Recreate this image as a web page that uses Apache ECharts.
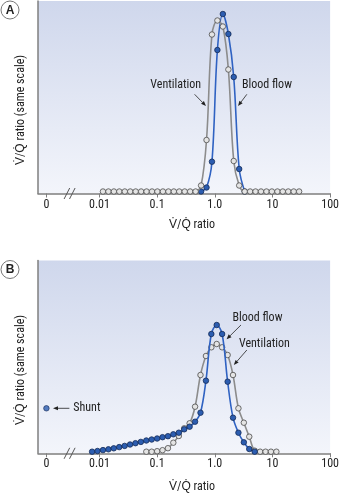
<!DOCTYPE html>
<html>
<head>
<meta charset="utf-8">
<script src="https://cdn.jsdelivr.net/npm/echarts@6/dist/echarts.min.js"></script>
<style>
  html, body { margin: 0; padding: 0; background: #ffffff; }
  #chart { width: 342px; height: 494px; }
</style>
</head>
<body>
<div id="chart"></div>
<script>
// ---- Panel A: normal lung, V/Q compartments (ratio) ----
const vqA = [0.0115, 0.0143, 0.0178, 0.0221, 0.0275, 0.0342, 0.0425, 0.0528, 0.0656, 0.0816,
             0.101, 0.126, 0.157, 0.195, 0.242, 0.301, 0.374, 0.465, 0.578, 0.719,
             0.893, 1.11, 1.38, 1.72, 2.13, 2.65, 3.30, 4.10, 5.09, 6.33,
             7.87, 9.78, 12.2, 15.1, 18.8, 23.4, 29.0];
const ventA = [0, 0, 0, 0, 0, 0, 0, 0, 0, 0,
               0, 0, 0, 0, 0, 0, 0, 0, 0.6, 5.15,
               15.7, 17.1, 16.5, 12.2, 3.05, 0.6, 0, 0, 0, 0,
               0, 0, 0, 0, 0, 0, 0];
const flowA = [null, null, null, null, null, null, null, null, null, null,
               null, null, null, null, null, null, null, null, 0, 0.4,
               2.98, 14.15, 17.75, 15.75, 11.45, 2.25, 0, null, null, null,
               null, null, null, null, null, null, null];

// ---- Panel B: lung with low V/Q units and shunt ----
const vqB = [0.00745, 0.00925, 0.0115, 0.0143, 0.0177, 0.0220, 0.0273, 0.0339, 0.0421, 0.0522,
             0.0649, 0.0805, 0.100, 0.124, 0.154, 0.191, 0.238, 0.295, 0.366, 0.455,
             0.565, 0.702, 0.871, 1.08, 1.34, 1.67, 2.07, 2.57, 3.19, 3.96,
             4.92, 6.11, 7.59, 9.42, 11.7];
const ventB = [null, null, null, null, null, null, null, null, null, null,
               0, 0, 0.05, 0.15, 0.35, 0.9, 1.57, 2.34, 2.84, 4.5,
               7.67, 9.57, 10.44, 10.77, 10.44, 9.67, 7.67, 4.34, 2.9, 1.5,
               0.1, 0, 0, 0, 0];
const flowB = [0, 0.07, 0.16, 0.24, 0.34, 0.46, 0.58, 0.72, 0.85, 0.98,
               1.12, 1.22, 1.32, 1.45, 1.55, 1.74, 1.9, 2.24, 2.5, 3.0,
               3.9, 7.1, 11.77, 12.67, 11.77, 7.0, 3.4, 1.9, 0.94, 0.27,
               0, null, null, null, null];
const shuntB = 4.34;   // blood flow through units with V/Q = 0

// ---- x axis ticks ----
const tickRatios = [0, 0.01, 0.1, 1, 10, 100];
const tickLabels = ['0', '0.01', '0.1', '1.0', '10', '100'];

const LOG_MIN = -3.066, LOG_MAX = 2.0;
const ZERO_POS = -2.92;           // where V/Q = 0 sits, left of the axis break
const BREAK_POS = [-2.565, -2.471];

const NARROW = "'Liberation Sans Narrow', 'Arial Narrow', 'Roboto Condensed', 'Liberation Sans', sans-serif";
const TXT = '#222222';
const AXIS = '#7f7f7f';
const BLUE_LINE = '#2f62c2', BLUE_FILL = '#2c5db0', BLUE_EDGE = '#142b57';
const GREY_LINE = '#8c8c8c', GREY_FILL = '#e4e4e4', GREY_EDGE = '#4a4a4a';

const pos = r => (r === 0 ? ZERO_POS : Math.log10(r));
const tickPos = tickRatios.map(pos);

function pairs(ratios, values) {
  const out = [];
  ratios.forEach((r, i) => { if (values[i] !== null) out.push([pos(r), values[i]]); });
  return out;
}

const plotBg = {
  type: 'linear', x: 0, y: 0, x2: 0, y2: 1,
  colorStops: [{ offset: 0, color: '#cfd7ec' }, { offset: 1, color: '#f3f5fb' }]
};

function xAxisCfg(gridIndex) {
  return {
    type: 'value', gridIndex, min: LOG_MIN, max: LOG_MAX,
    axisLine: { show: true, onZero: false, lineStyle: { color: AXIS, width: 1.5 } },
    axisTick: { show: true, customValues: tickPos, length: 4, lineStyle: { color: AXIS, width: 1 } },
    axisLabel: {
      show: true, customValues: tickPos, margin: 5,
      fontSize: 12, fontFamily: NARROW, color: TXT,
      formatter: v => {
        let best = 0;
        tickPos.forEach((p, i) => { if (Math.abs(p - v) < Math.abs(tickPos[best] - v)) best = i; });
        return tickLabels[best];
      }
    },
    splitLine: { show: false }
  };
}
function yAxisCfg(gridIndex, min, max) {
  return {
    type: 'value', gridIndex, min, max,
    axisLine: { show: true, onZero: false, lineStyle: { color: AXIS, width: 1.5 } },
    axisTick: { show: false }, axisLabel: { show: false }, splitLine: { show: false }
  };
}
function lineSeries(idx, data, blue, z) {
  return {
    type: 'line', xAxisIndex: idx, yAxisIndex: idx, data,
    smooth: 0.35, symbol: 'circle', symbolSize: 5.5, showAllSymbol: true,
    lineStyle: { color: blue ? BLUE_LINE : GREY_LINE, width: 1.6 },
    itemStyle: { color: blue ? BLUE_FILL : GREY_FILL, borderColor: blue ? BLUE_EDGE : GREY_EDGE, borderWidth: 0.8 },
    silent: true, z
  };
}

const chart = echarts.init(document.getElementById('chart'), null, { renderer: 'canvas' });
chart.setOption({
  animation: false,
  grid: [
    { left: 38, right: 6, top: 1, height: 192.5, show: true, backgroundColor: plotBg, borderWidth: 0 },
    { left: 38, right: 6, top: 260.5, height: 192.8, show: true, backgroundColor: plotBg, borderWidth: 0 }
  ],
  xAxis: [xAxisCfg(0), xAxisCfg(1)],
  yAxis: [yAxisCfg(0, -0.2, 19.05), yAxisCfg(1, -0.16, 19.12)],
  series: [
    lineSeries(0, pairs(vqA, flowA), true, 2),
    lineSeries(0, pairs(vqA, ventA), false, 3),
    lineSeries(1, pairs(vqB, ventB), false, 2),
    lineSeries(1, pairs(vqB, flowB), true, 3),
    {
      type: 'scatter', xAxisIndex: 1, yAxisIndex: 1, data: [[pos(0), shuntB]],
      symbol: 'circle', symbolSize: 5.5,
      itemStyle: { color: BLUE_FILL, borderColor: BLUE_EDGE, borderWidth: 0.8 }, silent: true, z: 3
    }
  ]
});

// ---- annotations, placed in data coordinates ----
const px = (g, x, y) => chart.convertToPixel({ gridIndex: g }, [x, y]);
const font = (size, weight) => ({ fontSize: size, fontFamily: NARROW, fontWeight: weight || 'normal', fill: TXT });

function label(g, x, y, text, align) {
  const p = px(g, x, y);
  return { type: 'text', x: p[0], y: p[1], z: 10,
    style: Object.assign({ text, align: align || 'center', verticalAlign: 'middle' }, font(12)) };
}
function arrow(g, x1, y1, x2, y2) {
  const a = px(g, x1, y1), b = px(g, x2, y2);
  const dx = b[0] - a[0], dy = b[1] - a[1], len = Math.hypot(dx, dy);
  const ux = dx / len, uy = dy / len, L = 5, W = 2;
  const bx = b[0] - ux * L, by = b[1] - uy * L;
  return [
    { type: 'line', z: 10, shape: { x1: a[0], y1: a[1], x2: bx, y2: by }, style: { stroke: TXT, lineWidth: 0.8 } },
    { type: 'polygon', z: 10, shape: { points: [[b[0], b[1]], [bx - uy * W, by + ux * W], [bx + uy * W, by - ux * W]] }, style: { fill: TXT } }
  ];
}
function breakMarks(g) {
  return BREAK_POS.map(x => {
    const p = px(g, x, g === 0 ? -0.2 : -0.16);
    return { type: 'line', z: 10, shape: { x1: p[0] - 2.8, y1: p[1] + 5.5, x2: p[0] + 2.8, y2: p[1] - 5.5 },
      style: { stroke: '#555', lineWidth: 1 } };
  });
}
function panelTag(cx, cy, t) {
  return [
    { type: 'circle', z: 10, shape: { cx, cy, r: 9 }, style: { fill: '#fff', stroke: '#777', lineWidth: 1 } },
    { type: 'text', z: 11, x: cx, y: cy + 0.5, style: { text: t, align: 'center', verticalAlign: 'middle', fontSize: 12, fontWeight: 'bold', fontFamily: "'Liberation Sans', Arial, sans-serif", fill: TXT } }
  ];
}
function yTitle(x, y) {
  return { type: 'text', z: 10, x, y, rotation: Math.PI / 2,
    style: Object.assign({ text: 'V\u0307/Q\u0307 ratio (same scale)', align: 'center', verticalAlign: 'middle' }, font(12)) };
}
function xTitle(x, y) {
  return { type: 'text', z: 10, x, y,
    style: Object.assign({ text: 'V\u0307/Q\u0307 ratio', align: 'center', verticalAlign: 'middle' }, font(12)) };
}

const graphic = [].concat(
  panelTag(10, 10, 'A'), panelTag(10, 269.5, 'B'),
  yTitle(21, 110), yTitle(21, 370),
  xTitle(192, 225), xTitle(192, 487),
  breakMarks(0), breakMarks(1),
  label(0, -0.677, 10.65, 'Ventilation'),
  arrow(0, -0.35, 9.72, -0.153, 8.55),
  label(0, 0.905, 10.65, 'Blood flow'),
  arrow(0, 0.556, 9.72, 0.403, 8.55),
  label(1, 0.74, 13.34, 'Blood flow'),
  arrow(1, 0.454, 12.67, 0.204, 11.24),
  label(1, 0.86, 10.74, 'Ventilation'),
  arrow(1, 0.556, 10.17, 0.33, 8.67),
  label(1, -2.454, 4.34, 'Shunt', 'left'),
  arrow(1, -2.522, 4.34, -2.806, 4.34)
);
chart.setOption({ graphic });
</script>
</body>
</html>
